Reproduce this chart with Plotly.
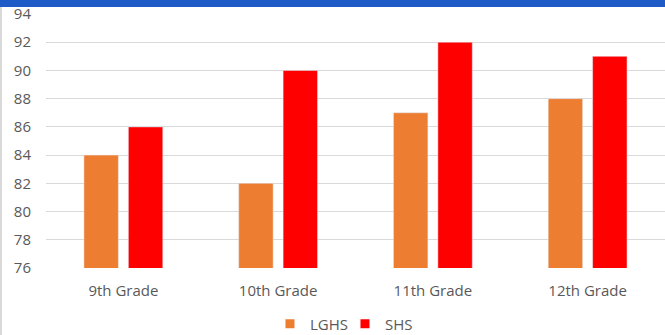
import plotly.graph_objects as go

# Average scores by grade for the two schools
grades = ["9th Grade", "10th Grade", "11th Grade", "12th Grade"]
schools = ["LGHS", "SHS"]
lghs = [84, 82, 87, 88]
shs = [86, 90, 92, 91]
colors = ["#ED7D31", "#FF0000"]

tick_font = dict(family="Open Sans, Segoe UI, sans-serif", size=15, color="#595959")

fig = go.Figure()
for name, vals, col in zip(schools, [lghs, shs], colors):
    fig.add_trace(go.Bar(name=name, x=grades, y=vals, marker_color=col,
                         showlegend=False))
    # small square swatch for the legend
    fig.add_trace(go.Scatter(name=name, x=[grades[0]], y=[None], mode="markers",
                             marker=dict(symbol="square", size=9, color=col),
                             showlegend=True, hoverinfo="skip"))

fig.update_layout(
    width=665,
    height=335,
    margin=dict(l=46, r=0, t=14, b=67, autoexpand=False),
    paper_bgcolor="white",
    plot_bgcolor="white",
    barmode="group",
    bargap=0.426,
    bargroupgap=0.225,
    legend=dict(
        orientation="h",
        x=0.483,
        xanchor="center",
        yref="container",
        y=1 - 324 / 335,
        yanchor="middle",
        font=tick_font,
        itemwidth=30,
        entrywidth=30,
        bgcolor="rgba(0,0,0,0)",
    ),
    xaxis=dict(
        showgrid=False,
        showline=False,
        ticks="",
        tickfont=tick_font,
        ticklabelstandoff=12,
    ),
    yaxis=dict(
        range=[76, 94],
        dtick=2,
        showgrid=True,
        gridcolor="#D9D9D9",
        gridwidth=1,
        zeroline=False,
        showline=False,
        ticks="",
        tickfont=tick_font,
        ticklabelstandoff=14,
    ),
    shapes=[
        # blue strip across the top
        dict(type="rect", xref="paper", yref="paper",
             x0=-46 / 619, x1=1.01, y0=1 + 7 / 254, y1=1 + 20 / 254,
             fillcolor="#1E5BC6", line_width=0, layer="above"),
        # thin gray rule along the left edge
        dict(type="rect", xref="paper", yref="paper",
             x0=-46 / 619, x1=-44 / 619, y0=-0.3, y1=1 + 7 / 254,
             fillcolor="#D9D9D9", line_width=0, layer="above"),
    ],
)

fig.write_html("out.html")
